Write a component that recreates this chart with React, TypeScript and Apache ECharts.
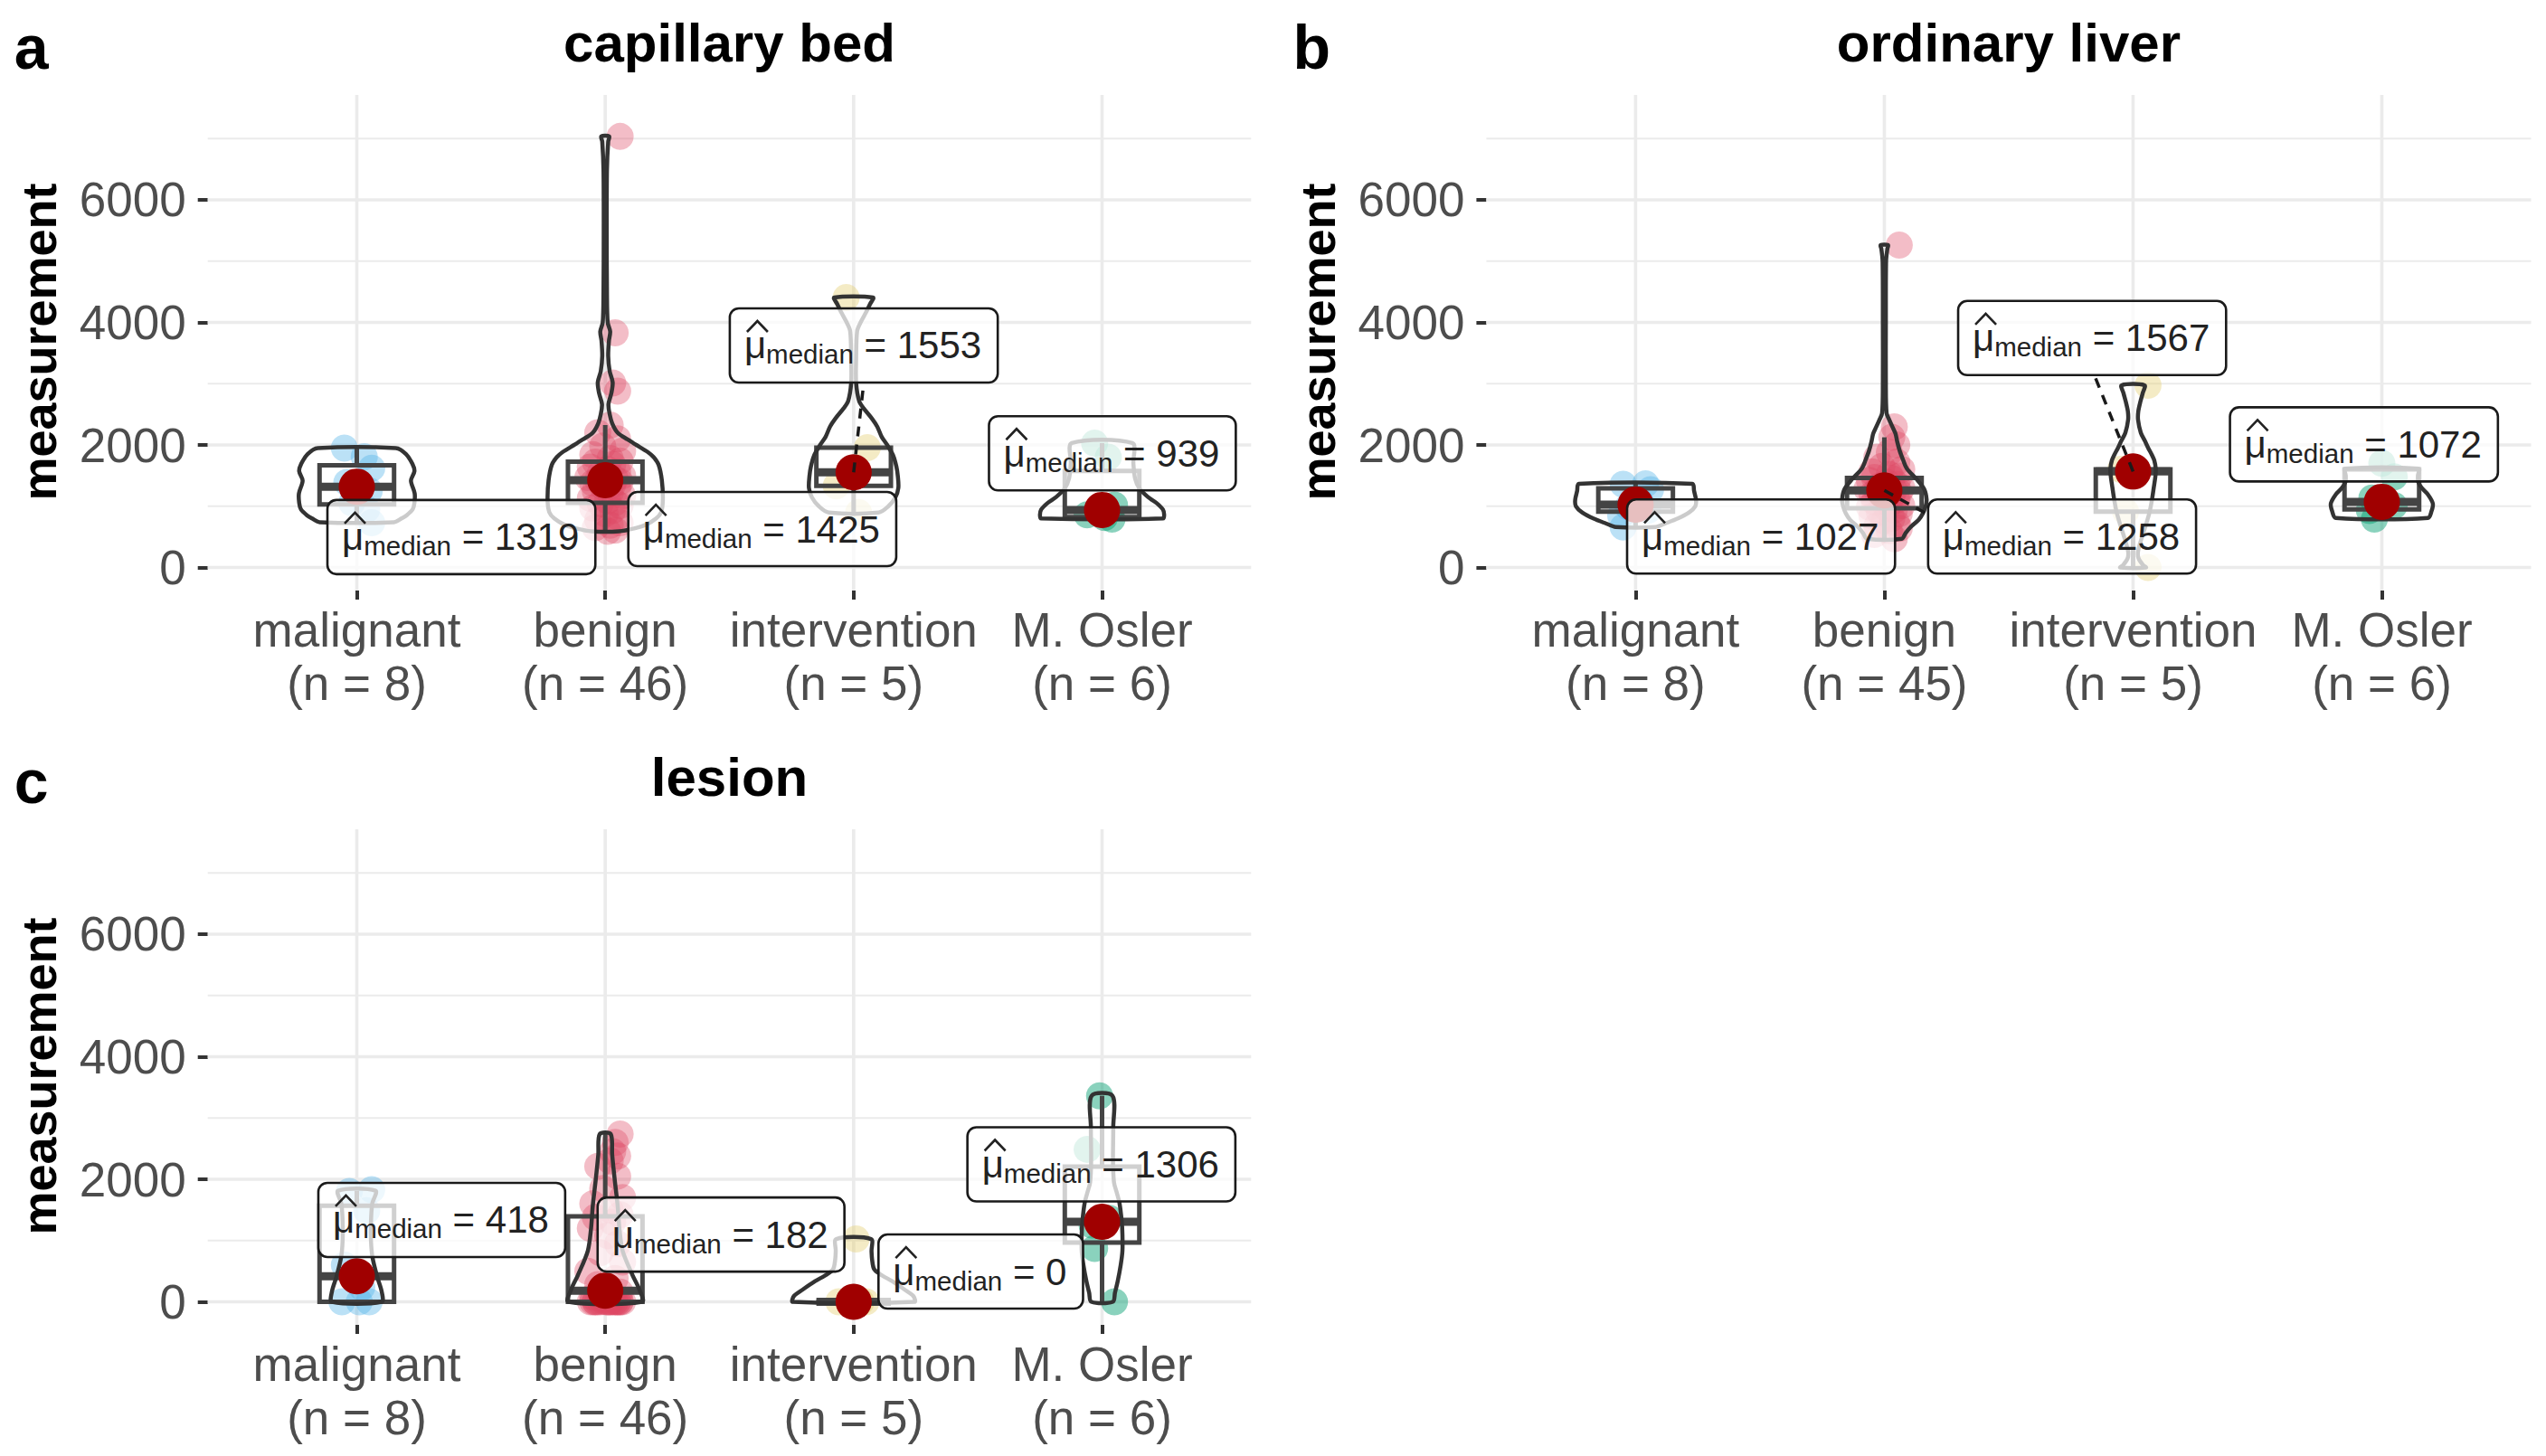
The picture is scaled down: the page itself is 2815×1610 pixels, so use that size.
import React, { useEffect, useRef } from 'react';
import * as echarts from 'echarts';

// ---------------- data ----------------
const CATEGORIES = ['malignant', 'benign', 'intervention', 'M. Osler'];
const PANEL_TITLES = ['capillary bed', 'ordinary liver', 'lesion'];
const PANEL_TAGS = ['a', 'b', 'c'];
const GROUP_N_A = [8, 46, 5, 6];
const GROUP_N_B = [8, 45, 5, 6];
const GROUP_N_C = [8, 46, 5, 6];
const Y_TICKS = [0, 2000, 4000, 6000];
const Y_GRID = [0, 1000, 2000, 3000, 4000, 5000, 6000, 7000];
const X_TICKS = [1, 2, 3, 4];

// panel a: capillary bed (measurement values per group)
const A_MALIGNANT = [1947, 1808, 1620, 1388, 1250, 1057, 950, 730];
const A_BENIGN = [7035, 3830, 3010, 2880, 2325, 2200, 2100, 1980, 1900, 1840, 1780, 1740, 1720, 1680, 1640, 1600, 1560, 1530, 1500, 1470, 1445, 1430, 1420, 1400, 1380, 1350, 1320, 1290, 1250, 1210, 1170, 1130, 1090, 1060, 1040, 1010, 970, 930, 880, 830, 780, 730, 690, 650, 610, 590];
const A_INTERVENTION = [4406, 1956, 1553, 1331, 897];
const A_OSLER = [2030, 1800, 1020, 860, 815, 790];

// panel b: ordinary liver
const B_MALIGNANT = [1365, 1358, 1270, 1064, 990, 934, 850, 662];
const B_BENIGN = [5262, 2295, 2125, 2000, 1880, 1800, 1720, 1650, 1600, 1560, 1520, 1490, 1470, 1450, 1420, 1390, 1360, 1330, 1300, 1280, 1265, 1258, 1245, 1220, 1190, 1160, 1130, 1100, 1070, 1040, 1010, 985, 965, 940, 910, 880, 840, 800, 760, 720, 680, 640, 600, 540, 470];
const B_INTERVENTION = [2974, 1600, 1567, 912, 0];
const B_OSLER = [1700, 1480, 1134, 1010, 930, 790];

// panel c: lesion
const C_MALIGNANT = [1830, 1800, 1489, 600, 236, 0, 0, 0];
const C_BENIGN = [2738, 2600, 2450, 2380, 2300, 2210, 2050, 1850, 1700, 1600, 1500, 1420, 1380, 1300, 1200, 1080, 950, 800, 650, 500, 380, 280, 204, 160, 80, 40, 10, 0, 0, 0, 0, 0, 0, 0, 0, 0, 0, 0, 0, 0, 0, 0, 0, 0, 0, 0];
const C_INTERVENTION = [1026, 0, 0, 0, 0];
const C_OSLER = [3363, 2489, 1362, 1250, 872, 0];

// hand-read horizontal jitter offsets (category units)
const JIT_MAL_A = [-0.05, 0.03, 0.06, -0.04, 0.05, -0.02, 0.04, 0.06];
const JIT_BEN = [0.06, 0.04, 0.03, 0.05, 0.02, -0.03, 0.05, -0.01, 0.07, -0.05, 0.02, 0.06, -0.04, 0.03, -0.06, 0.01, 0.05, -0.02, 0.07, -0.07, 0.04, -0.03, 0.0, 0.06, -0.05, 0.03, -0.01, 0.05, -0.04, 0.02, 0.07, -0.06, 0.01, 0.04, -0.02, 0.06, -0.05, 0.03, 0.0, 0.05, -0.03, 0.06, 0.02, -0.04, 0.04, 0.01];
const JIT_INT_A = [-0.03, 0.055, 0.01, -0.07, 0.02];
const JIT_OSL_A = [-0.03, 0.025, 0.05, -0.06, 0.01, 0.04];
const JIT_MAL_B = [0.04, -0.05, 0.06, 0.02, -0.03, 0.05, -0.06, -0.05];
const JIT_INT_B = [0.06, -0.05, 0.02, -0.03, 0.06];
const JIT_OSL_B = [0.0, 0.05, -0.04, 0.05, -0.05, -0.03];
const JIT_MAL_C = [0.06, -0.03, 0.04, -0.05, 0.02, -0.06, 0.01, 0.05];
const JIT_INT_C = [0.01, -0.06, 0.0, 0.05, 0.03];
const JIT_OSL_C = [-0.01, -0.06, 0.03, -0.04, -0.03, 0.05];

// box stats: [whisker low, q1, median, q3, whisker high]
const A_BOX = [[730, 1030, 1319, 1667, 1947], [590, 1055, 1425, 1728, 2325], [897, 1331, 1553, 1956, 1956], [800, 824, 939, 1577, 2030]];
const B_BOX = [[662, 913, 1027, 1292, 1365], [470, 968, 1258, 1460, 2125], [0, 912, 1567, 1600, 1600], [809, 950, 1072, 1600, 1612]];
const C_BOX = [[0, 0, 418, 1567, 1813], [0, 0, 182, 1395, 2738], [0, 0, 0, 0, 0], [0, 967, 1306, 2207, 3363]];

// medians (red points and labels)
const A_MEDIAN = [1319, 1425, 1553, 939];
const B_MEDIAN = [1027, 1258, 1567, 1072];
const C_MEDIAN = [418, 182, 0, 1306];

// violin outlines: [value, half width in category units]
const A_VIOLIN = [
  [[740, 0.15], [800, 0.18], [850, 0.2], [950, 0.225], [1055, 0.232], [1210, 0.233], [1418, 0.218], [1572, 0.232], [1690, 0.224], [1850, 0.198], [1947, 0.157]],
  [[590, 0.055], [640, 0.12], [700, 0.165], [800, 0.205], [900, 0.225], [1100, 0.232], [1420, 0.228], [1675, 0.215], [1800, 0.195], [1882, 0.172], [2000, 0.125], [2089, 0.09], [2200, 0.05], [2354, 0.028], [2500, 0.018], [2664, 0.013], [2850, 0.025], [3023, 0.03], [3200, 0.018], [3450, 0.012], [3700, 0.015], [3851, 0.02], [4000, 0.01], [4500, 0.007], [5500, 0.006], [6500, 0.007], [6950, 0.012], [7035, 0.016]],
  [[897, 0.1], [1000, 0.14], [1144, 0.168], [1300, 0.18], [1488, 0.178], [1650, 0.172], [1838, 0.158], [2000, 0.135], [2132, 0.113], [2300, 0.095], [2424, 0.075], [2600, 0.04], [2718, 0.022], [3014, 0.01], [3400, 0.01], [3857, 0.014], [4000, 0.028], [4150, 0.048], [4300, 0.066], [4406, 0.078]],
  [[800, 0.245], [860, 0.25], [947, 0.245], [1050, 0.22], [1150, 0.185], [1292, 0.15], [1450, 0.133], [1700, 0.126], [2030, 0.122]],
];
const B_VIOLIN = [
  [[662, 0.08], [720, 0.12], [800, 0.17], [900, 0.215], [1000, 0.24], [1100, 0.243], [1250, 0.235], [1365, 0.228]],
  [[470, 0.07], [560, 0.085], [657, 0.105], [780, 0.138], [884, 0.155], [1000, 0.166], [1110, 0.17], [1280, 0.16], [1448, 0.128], [1616, 0.09], [1760, 0.075], [1900, 0.062], [2050, 0.052], [2183, 0.045], [2300, 0.032], [2409, 0.02], [2521, 0.009], [3000, 0.006], [4000, 0.006], [5000, 0.007], [5200, 0.012], [5262, 0.015]],
  [[0, 0.052], [40, 0.04], [150, 0.022], [263, 0.02], [500, 0.036], [716, 0.053], [900, 0.066], [1110, 0.076], [1300, 0.083], [1500, 0.09], [1616, 0.091], [1750, 0.085], [1843, 0.075], [1950, 0.061], [2069, 0.047], [2200, 0.031], [2409, 0.02], [2550, 0.021], [2700, 0.029], [2850, 0.039], [2974, 0.046]],
  [[809, 0.185], [922, 0.2], [1045, 0.205], [1193, 0.185], [1300, 0.16], [1400, 0.146], [1500, 0.145], [1612, 0.148]],
];
const C_VIOLIN = [
  [[0, 0.1], [170, 0.1], [410, 0.082], [730, 0.063], [1000, 0.057], [1300, 0.057], [1600, 0.062], [1813, 0.075]],
  [[0, 0.148], [214, 0.136], [435, 0.11], [834, 0.07], [1200, 0.057], [1572, 0.05], [2000, 0.038], [2400, 0.028], [2738, 0.022]],
  [[0, 0.245], [96, 0.24], [200, 0.205], [337, 0.155], [450, 0.107], [538, 0.082], [700, 0.074], [829, 0.072], [1026, 0.07]],
  [[0, 0.043], [150, 0.052], [337, 0.063], [600, 0.075], [834, 0.082], [1100, 0.082], [1321, 0.079], [1616, 0.07], [1800, 0.058], [1950, 0.048], [2300, 0.044], [2846, 0.045], [3363, 0.042]],
];

// ---------------- layout ----------------
// repelled label anchors: [x of box left (category units), y of box centre (value units)]
const A_LABEL_POS = [[0.8817, 497], [2.0929, 627], [2.5015, 3624], [3.5448, 1864]];
const B_LABEL_POS = [[0.9658, 505], [2.176, 505], [2.2967, 3745], [3.3895, 2009]];
const C_LABEL_POS = [[0.8452, 1337], [1.9694, 1098], [3.1, 494], [3.458, 2244]];
// connector segments: [group index, end x, end y]
const A_SEGMENTS = [[2, 3.04, 2989]];
const B_SEGMENTS = [[1, 2.167, 884], [2, 2.845, 3132]];
const C_SEGMENTS: number[][] = [];

const GRID_BOXES = [
  [229.7, 105, 1153.6, 548],
  [1643.4, 105, 1155.1, 548],
  [229.7, 917, 1153.6, 548],
];
const Y_MIN = -376;
const Y_MAX = 7712;
const X_MIN = 0.4;
const X_MAX = 4.6;

const POINT_COLORS = ['rgba(86,180,233,0.4)', 'rgba(222,72,100,0.36)', 'rgba(228,204,110,0.4)', 'rgba(0,158,112,0.46)'];
const FONT = 'Liberation Sans';

const PANELS = [
  { values: [A_MALIGNANT, A_BENIGN, A_INTERVENTION, A_OSLER], jitter: [JIT_MAL_A, JIT_BEN, JIT_INT_A, JIT_OSL_A], box: A_BOX, median: A_MEDIAN, violin: A_VIOLIN, labels: A_LABEL_POS, segments: A_SEGMENTS, n: GROUP_N_A },
  { values: [B_MALIGNANT, B_BENIGN, B_INTERVENTION, B_OSLER], jitter: [JIT_MAL_B, JIT_BEN, JIT_INT_B, JIT_OSL_B], box: B_BOX, median: B_MEDIAN, violin: B_VIOLIN, labels: B_LABEL_POS, segments: B_SEGMENTS, n: GROUP_N_B },
  { values: [C_MALIGNANT, C_BENIGN, C_INTERVENTION, C_OSLER], jitter: [JIT_MAL_C, JIT_BEN, JIT_INT_C, JIT_OSL_C], box: C_BOX, median: C_MEDIAN, violin: C_VIOLIN, labels: C_LABEL_POS, segments: C_SEGMENTS, n: GROUP_N_C },
];

let measureCtx: CanvasRenderingContext2D | null = null;
function textWidth(s: string, size: number): number {
  if (!measureCtx) {
    const c = document.createElement('canvas');
    measureCtx = c.getContext('2d');
  }
  if (!measureCtx) return s.length * size * 0.55;
  measureCtx.font = `${size}px "${FONT}"`;
  return measureCtx.measureText(s).width;
}

function buildOption() {
  const grid: any[] = [];
  const xAxis: any[] = [];
  const yAxis: any[] = [];
  const series: any[] = [];
  const graphic: any[] = [];

  PANELS.forEach((P, p) => {
    const gb = GRID_BOXES[p];
    grid.push({ left: gb[0], top: gb[1], width: gb[2], height: gb[3], containLabel: false, outerBoundsMode: 'none' });
    xAxis.push({
      gridIndex: p, type: 'value', min: X_MIN, max: X_MAX,
      axisLine: { show: false, onZero: false },
      splitLine: { show: false },
      axisTick: { show: true, customValues: X_TICKS, length: 10, lineStyle: { color: '#333333', width: 4 } },
      axisLabel: {
        show: true, customValues: X_TICKS,
        formatter: (v: number) => `${CATEGORIES[Math.round(v) - 1]}\n(n = ${P.n[Math.round(v) - 1]})`,
        fontSize: 53, lineHeight: 59, color: '#4D4D4D', fontFamily: FONT, margin: 14,
      },
    });
    yAxis.push({
      gridIndex: p, type: 'value', min: Y_MIN, max: Y_MAX,
      axisLine: { show: false, onZero: false },
      splitLine: { show: false },
      axisTick: { show: true, customValues: Y_TICKS, length: 11, lineStyle: { color: '#333333', width: 4 } },
      axisLabel: { show: true, customValues: Y_TICKS, formatter: (v: number) => String(Math.round(v)), fontSize: 53, color: '#4D4D4D', fontFamily: FONT, margin: 24 },
    });

    // grid lines
    series.push({
      type: 'custom', xAxisIndex: p, yAxisIndex: p, silent: true, z: 1,
      data: Y_GRID.map((v) => [1, v]),
      renderItem: (params: any, api: any) => {
        const v = api.value(1);
        const y = api.coord([1, v])[1];
        const cs = params.coordSys;
        return { type: 'line', shape: { x1: cs.x, y1: y, x2: cs.x + cs.width, y2: y }, style: { stroke: '#EBEBEB', lineWidth: v % 2000 === 0 ? 3.6 : 1.8 } };
      },
    });
    series.push({
      type: 'custom', xAxisIndex: p, yAxisIndex: p, silent: true, z: 1,
      data: X_TICKS.map((x) => [x, 0]),
      renderItem: (params: any, api: any) => {
        const x = api.coord([api.value(0), 0])[0];
        const cs = params.coordSys;
        return { type: 'line', shape: { x1: x, y1: cs.y, x2: x, y2: cs.y + cs.height }, style: { stroke: '#EBEBEB', lineWidth: 3.6 } };
      },
    });

    // jittered points
    P.values.forEach((vals, g) => {
      series.push({
        type: 'scatter', xAxisIndex: p, yAxisIndex: p, silent: true, z: 2,
        symbol: 'circle', symbolSize: 30,
        itemStyle: { color: POINT_COLORS[g], borderWidth: 0, opacity: 1 },
        data: vals.map((v, i) => [g + 1 + P.jitter[g][i], v]),
      });
    });

    // boxes
    series.push({
      type: 'custom', xAxisIndex: p, yAxisIndex: p, silent: true, z: 3,
      data: P.box.map((b, g) => [g + 1, b[2]]),
      renderItem: (params: any, api: any) => {
        const g = params.dataIndex;
        const [wl, q1, med, q3, wh] = P.box[g];
        const cx = g + 1;
        const tl = api.coord([cx - 0.15, q3]);
        const br = api.coord([cx + 0.15, q1]);
        const ml = api.coord([cx - 0.15, med]);
        const mr = api.coord([cx + 0.15, med]);
        const c3 = api.coord([cx, q3]);
        const ch = api.coord([cx, wh]);
        const c1 = api.coord([cx, q1]);
        const cl = api.coord([cx, wl]);
        const st = { stroke: '#444444', lineWidth: 5, fill: 'none' };
        return {
          type: 'group',
          children: [
            { type: 'line', shape: { x1: c3[0], y1: c3[1], x2: ch[0], y2: ch[1] }, style: st },
            { type: 'line', shape: { x1: c1[0], y1: c1[1], x2: cl[0], y2: cl[1] }, style: st },
            { type: 'rect', shape: { x: tl[0], y: tl[1], width: br[0] - tl[0], height: br[1] - tl[1] }, style: st },
            { type: 'line', shape: { x1: ml[0], y1: ml[1], x2: mr[0], y2: mr[1] }, style: { stroke: '#444444', lineWidth: 9 } },
          ],
        };
      },
    });

    // violins
    series.push({
      type: 'custom', xAxisIndex: p, yAxisIndex: p, silent: true, z: 4,
      data: P.violin.map((_, g) => [g + 1, P.median[g]]),
      renderItem: (params: any, api: any) => {
        const g = params.dataIndex;
        const prof = P.violin[g];
        const cx = g + 1;
        const pts: number[][] = [];
        for (let i = 0; i < prof.length; i++) pts.push(api.coord([cx + prof[i][1], prof[i][0]]));
        for (let i = prof.length - 1; i >= 0; i--) pts.push(api.coord([cx - prof[i][1], prof[i][0]]));
        return {
          type: 'polygon',
          shape: { points: pts, smooth: 0.3 },
          style: { fill: 'none', stroke: '#333333', lineWidth: 4.5, lineJoin: 'round' },
        };
      },
    });

    // median points
    series.push({
      type: 'scatter', xAxisIndex: p, yAxisIndex: p, silent: true, z: 5,
      symbol: 'circle', symbolSize: 40,
      itemStyle: { color: '#A00000', opacity: 1 },
      data: P.median.map((m, g) => [g + 1, m]),
    });

    // connector segments
    series.push({
      type: 'custom', xAxisIndex: p, yAxisIndex: p, silent: true, z: 6,
      data: P.segments.map((s) => [s[1], s[2]]),
      renderItem: (params: any, api: any) => {
        const s = P.segments[params.dataIndex];
        const g = s[0];
        const a = api.coord([g + 1, P.median[g]]);
        const b = api.coord([s[1], s[2]]);
        return { type: 'line', shape: { x1: a[0], y1: a[1], x2: b[0], y2: b[1] }, style: { stroke: '#1a1a1a', lineWidth: 3.5, lineDash: [11, 9] } };
      },
    });

    // labels
    series.push({
      type: 'custom', xAxisIndex: p, yAxisIndex: p, silent: true, z: 7,
      data: P.labels.map((l) => [l[0], l[1]]),
      renderItem: (params: any, api: any) => {
        const i = params.dataIndex;
        const lp = P.labels[i];
        const pt = api.coord([lp[0], lp[1]]);
        const main = ' = ' + String(P.median[i]);
        const fsMain = 42;
        const fsSub = 29.5;
        const wMu = textWidth('\u03bc', fsMain);
        const wSub = textWidth('median', fsSub);
        const wMain = textWidth(main, fsMain);
        const padL = 16;
        const padR = 18;
        const H = 82;
        const W = padL + wMu + wSub + wMain + padR;
        const x0 = pt[0];
        const cy = pt[1];
        const txt = (text: string, x: number, y: number, size: number) => ({
          type: 'text', x, y,
          style: { text, fill: '#222222', fontSize: size, fontFamily: FONT, align: 'left', verticalAlign: 'middle', textAlign: 'left', textVerticalAlign: 'middle' },
        });
        return {
          type: 'group',
          children: [
            { type: 'rect', shape: { x: x0, y: cy - H / 2, width: W, height: H, r: 10 }, style: { fill: 'rgba(255,255,255,0.75)', stroke: '#1a1a1a', lineWidth: 2.6 } },
            txt('\u03bc', x0 + padL, cy, fsMain),
            { type: 'polyline', shape: { points: [[x0 + padL + 3, cy - 15], [x0 + padL + 14.5, cy - 27], [x0 + padL + 26, cy - 15]] }, style: { stroke: '#222222', lineWidth: 2.6, fill: 'none' } },
            txt('median', x0 + padL + wMu, cy + 10, fsSub),
            txt(main, x0 + padL + wMu + wSub, cy, fsMain),
          ],
        };
      },
    });

    // titles, tags, axis titles
    const cxTitle = gb[0] + gb[2] / 2;
    const yOff = gb[1] - 105;
    graphic.push({
      type: 'text', x: cxTitle, y: 47 + yOff,
      style: { text: PANEL_TITLES[p], fill: '#000000', fontSize: 60, fontWeight: 'bold', fontFamily: FONT, align: 'center', verticalAlign: 'middle', textAlign: 'center', textVerticalAlign: 'middle' },
    });
    graphic.push({
      type: 'text', x: gb[0] - 214, y: 52 + yOff,
      style: { text: PANEL_TAGS[p], fill: '#000000', fontSize: 68, fontWeight: 'bold', fontFamily: FONT, align: 'left', verticalAlign: 'middle', textAlign: 'left', textVerticalAlign: 'middle' },
    });
    graphic.push({
      type: 'text', x: gb[0] - 186.4, y: 378 + yOff, rotation: Math.PI / 2,
      style: { text: 'measurement', fill: '#000000', fontSize: 54, fontWeight: 'bold', fontFamily: FONT, align: 'center', verticalAlign: 'middle', textAlign: 'center', textVerticalAlign: 'middle' },
    });
  });

  return {
    animation: false,
    backgroundColor: '#ffffff',
    grid, xAxis, yAxis, series, graphic,
  };
}

export default function App() {
  const ref = useRef<HTMLDivElement>(null);
  useEffect(() => {
    if (!ref.current) return;
    const chart = echarts.init(ref.current, null, { renderer: 'svg', width: 2815, height: 1610 });
    chart.setOption(buildOption() as any);
    return () => chart.dispose();
  }, []);
  return <div ref={ref} style={{ position: 'absolute', left: 0, top: 0, width: 2815, height: 1610, background: '#ffffff' }} />;
}
